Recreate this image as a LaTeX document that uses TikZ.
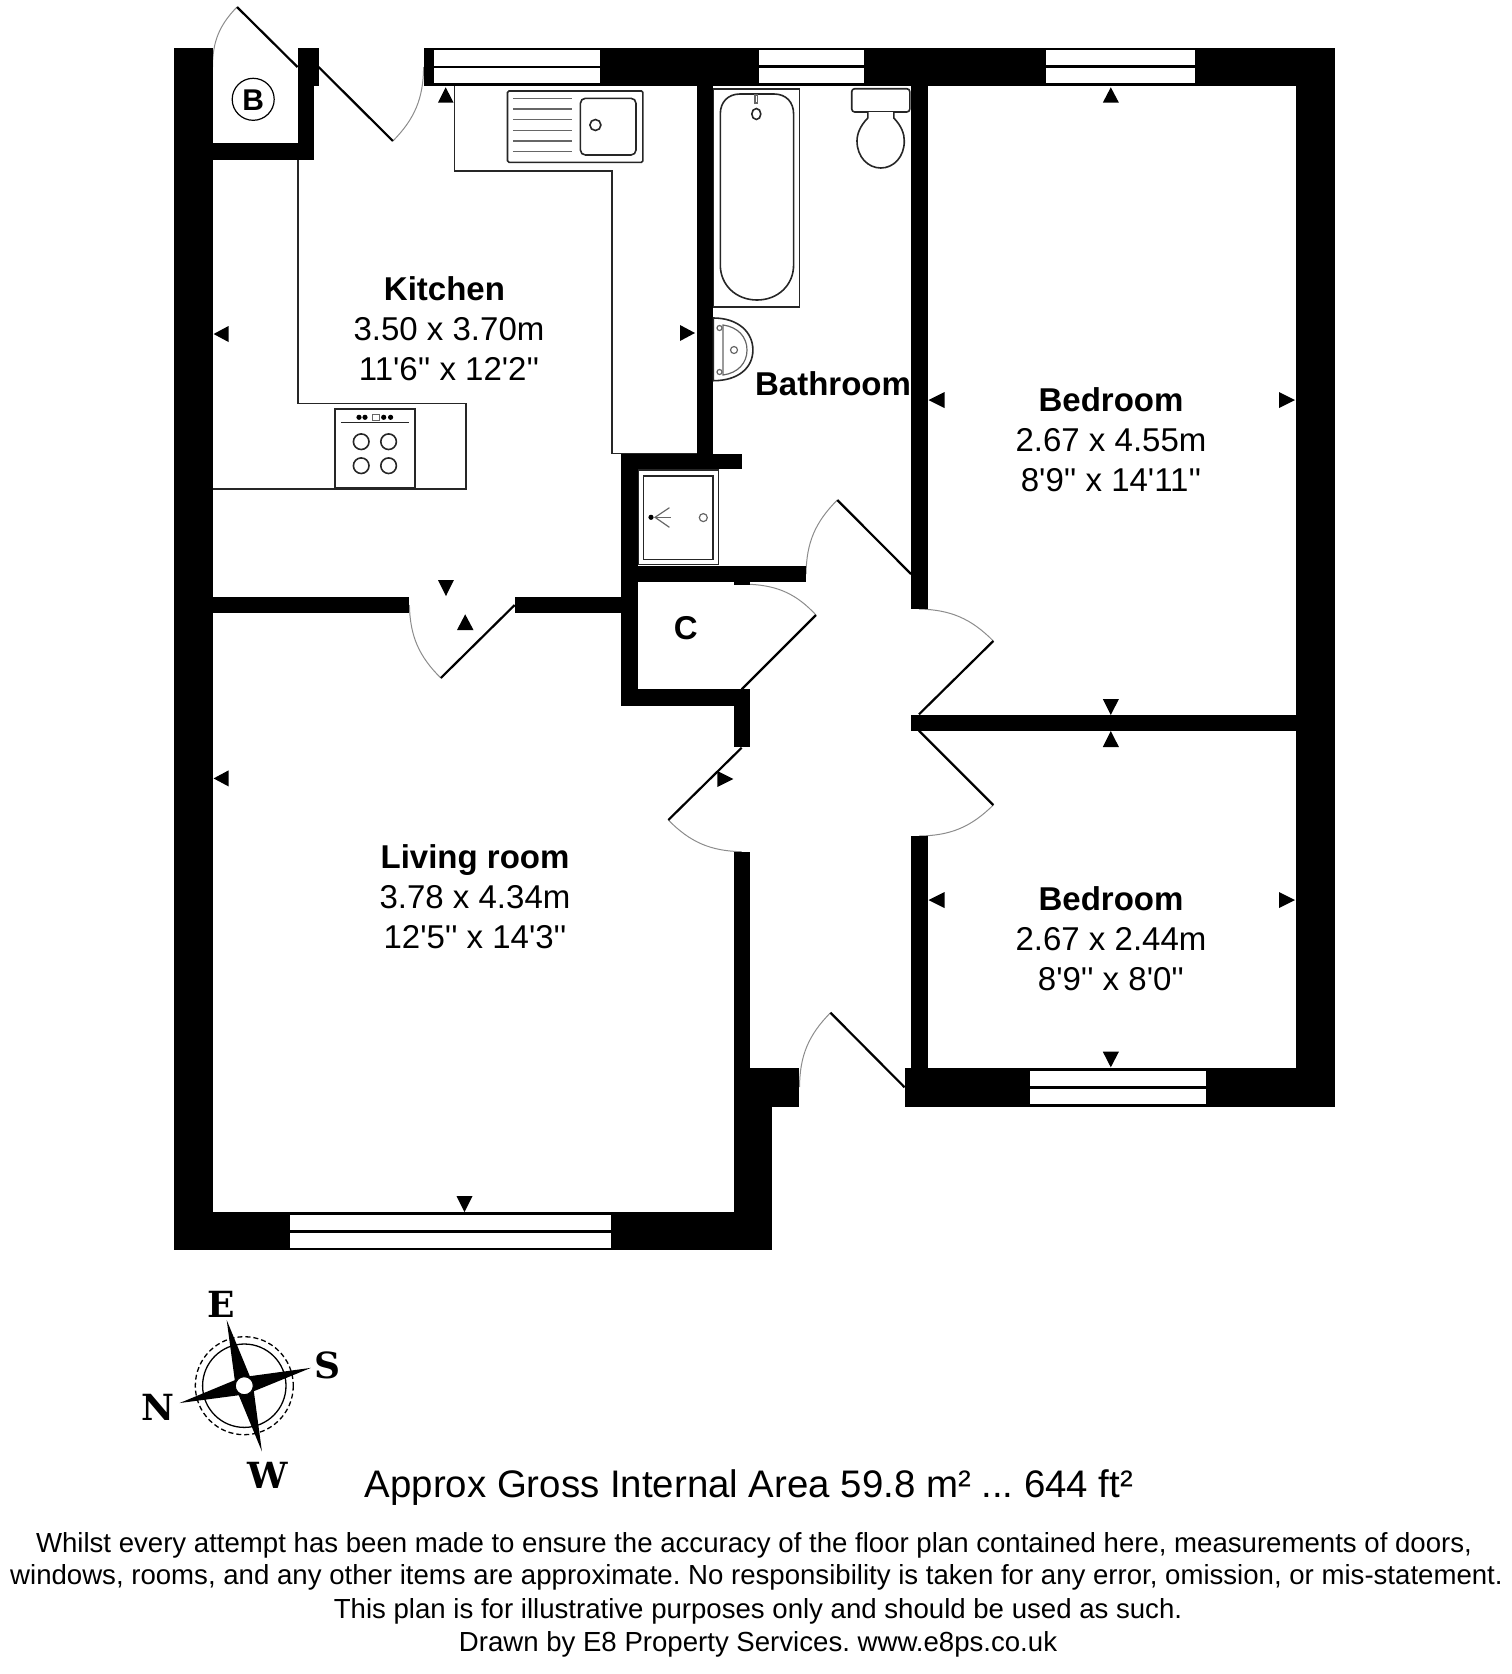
\documentclass[tikz,border=0pt]{standalone}
\usepackage{fontspec}
\setmainfont{Liberation Sans}[Ligatures=TeXOff]
\newfontfamily\compassfont{DejaVu Serif}
\frenchspacing
\tikzset{
  wall/.style={fill=black},
  glass/.style={fill=white},
  leaf/.style={draw=black, line width=2.2pt},
  swing/.style={draw=black!45, line width=1pt},
  fitting/.style={draw=black!85, line width=1.6pt},
  thinfit/.style={draw=black!60, line width=1.2pt},
  room/.style={align=center, inner sep=0pt, font=\fontsize{33}{40}\selectfont},
  title/.style={inner sep=0pt, font=\fontsize{33}{40}\selectfont\bfseries},
  point/.style={inner sep=0pt, font=\fontsize{36}{36}\compassfont\bfseries},
  foot/.style={inner sep=0pt, font=\fontsize{27.6}{33}\selectfont}
}
\begin{document}
\begin{tikzpicture}[x=1pt, y=-1pt]
\useasboundingbox (0,0) rectangle (1512,1674);
\draw[swing] (237,7) to[bend right=22] (212.5,67);
\draw[swing] (392.9,141) to[bend right=22] (423.6,67);
\draw[swing] (440.8,678) to[bend left=22] (409.4,605);
\draw[swing] (750,584.3) to[bend left=22] (816,615);
\draw[swing] (837.3,500) to[bend right=22] (806,574);
\draw[swing] (919,609) to[bend left=22] (993.3,641);
\draw[swing] (993.3,805) to[bend left=22] (919,836);
\draw[swing] (668.3,820) to[bend right=22] (741.7,851.7);
\draw[swing] (830.5,1012.7) to[bend right=22] (799.5,1087);
\fill[wall] (173.6,47.5) rectangle (212.5,1250);
\fill[wall] (212.5,143.3) rectangle (313.6,160);
\fill[wall] (297.5,47.5) rectangle (318.6,86);
\fill[wall] (297.5,86) rectangle (313.6,160);
\fill[wall] (423.6,47.5) rectangle (1334.8,86);
\fill[wall] (696.5,86) rectangle (712.5,454);
\fill[wall] (620.8,454) rectangle (742,469.3);
\fill[wall] (620.8,454) rectangle (637.6,705.7);
\fill[wall] (620.8,566) rectangle (806,582);
\fill[wall] (734,582) rectangle (750.3,584.7);
\fill[wall] (212.5,596.7) rectangle (409.4,612.7);
\fill[wall] (514.7,596.7) rectangle (620.8,612.7);
\fill[wall] (620.8,689.3) rectangle (750.3,705.7);
\fill[wall] (734,705.7) rectangle (750.3,746.7);
\fill[wall] (734,851.7) rectangle (750.3,1212);
\fill[wall] (734,1068.3) rectangle (799.3,1106.7);
\fill[wall] (734,1106.7) rectangle (772.4,1250);
\fill[wall] (173.6,1212) rectangle (772.4,1250);
\fill[wall] (911,86) rectangle (927.5,609.3);
\fill[wall] (911,715) rectangle (1296,730.7);
\fill[wall] (911,836) rectangle (927.5,1068.3);
\fill[wall] (904.6,1068.3) rectangle (1334.8,1106.7);
\fill[wall] (1295.8,47.5) rectangle (1334.8,1106.7);
\fill[glass] (434,50) rectangle (600,65.7);
\fill[glass] (434,68.3) rectangle (600,83.3);
\fill[glass] (758.5,50) rectangle (864,65);
\fill[glass] (758.5,68) rectangle (864,83);
\fill[glass] (1046,50) rectangle (1195.2,65);
\fill[glass] (1046,68) rectangle (1195.2,83);
\fill[glass] (1029.5,1070.7) rectangle (1206,1086);
\fill[glass] (1029.5,1088.7) rectangle (1206,1104);
\fill[glass] (290.4,1214.5) rectangle (611,1230);
\fill[glass] (290.4,1232.5) rectangle (611,1248);
\draw[leaf] (237,7) -- (297.5,67);
\draw[leaf] (318.6,67) -- (392.9,141);
\draw[leaf] (514.7,605) -- (440.8,678);
\draw[leaf] (816,615) -- (741.7,689.3);
\draw[leaf] (837.3,500) -- (911,574);
\draw[leaf] (993.3,641) -- (919,714.3);
\draw[leaf] (919,730.7) -- (993.3,805);
\draw[leaf] (741.7,747.7) -- (668.3,820);
\draw[leaf] (830.5,1012.7) -- (904.6,1087.3);
\draw[fitting] (297.9,160) -- (297.9,403.3) -- (465.7,403.3) -- (465.7,488.7) -- (212.5,488.7);
\draw[fitting] (454.3,86) -- (454.3,170.7) -- (611.8,170.7) -- (611.8,453.3) -- (696.5,453.3);
\draw[fitting, rounded corners=1.5pt] (507.5,91) rectangle (642.9,162.3);
\draw[fitting, rounded corners=5pt] (580.4,98.3) rectangle (636,155);
\draw[fitting] (595.4,125) circle (5.5);
\foreach \y in {98.3,109,119.7,130.3,141,151.7} \draw[thinfit] (512.9,\y) -- (571.8,\y);
\draw[fitting, line width=2pt] (334.7,408.7) rectangle (414.7,488);
\draw[fitting] (340.8,422.3) -- (409,422.3);
\foreach \x in {359,365,383.7,390.6} \fill (\x,417.3) circle (2.6);
\draw[thinfit, line width=.7pt] (372,414.5) rectangle (379,420.5);
\foreach \x in {361.2,388.6} \foreach \y in {441.7,465.7} \draw[fitting] (\x,\y) circle (7.8);
\draw[fitting] (713.4,88.7) rectangle (799.3,307);
\draw[fitting] (720.3,265) -- (720.3,114) .. controls (720.3,102) and (728,94) .. (740,94) -- (774,94) .. controls (786,94) and (793.6,102) .. (793.6,114) -- (793.6,265) .. controls (793.6,285) and (778,300) .. (757,300) .. controls (736,300) and (720.3,285) .. (720.3,265) -- cycle;
\draw[thinfit] (755,95) rectangle (757.6,103);
\draw[fitting] (756.3,114) ellipse (4.5 and 5.5);
\draw[fitting, rounded corners=3pt] (851.7,88.7) rectangle (909.8,112);
\draw[fitting, fill=white] (867.8,112) -- (867.8,118) .. controls (860,126) and (857,134) .. (857,141) .. controls (857,157) and (868,168) .. (880.8,168) .. controls (893.6,168) and (904.3,157) .. (904.3,141) .. controls (904.3,134) and (901.6,126) .. (893.8,118) -- (893.8,112);
\draw[fitting] (713.4,318) .. controls (738,318) and (752.9,332) .. (752.9,350) .. controls (752.9,368) and (738,380.7) .. (713.4,380.7) -- cycle;
\draw[thinfit] (723,325) .. controls (738,327) and (747,337) .. (747,350) .. controls (747,363) and (738,373) .. (723,375) -- cycle;
\draw[thinfit] (719.5,328) circle (2.5);
\draw[thinfit] (719.5,372) circle (2.5);
\draw[thinfit] (734,350) circle (3.5);
\draw[fitting, line width=1.2pt] (638.8,470) rectangle (718.4,564.3);
\draw[fitting, line width=1.2pt] (643.7,476) rectangle (713,559.3);
\fill (651,517.3) circle (2.6);
\draw[thinfit] (669.4,507.7) -- (655,517.3) -- (669.4,527.3);
\draw[thinfit] (655,517.3) -- (671.4,517.3);
\draw[thinfit] (703.3,517.6) circle (4);
\fill (437.9,102.7) -- (453.6,102.7) -- (445.7,87.3) -- cycle;
\fill (228.5,326) -- (228.5,342) -- (213.6,334) -- cycle;
\fill (680,325) -- (680,341) -- (695,333) -- cycle;
\fill (438,580) -- (453.9,580) -- (446,596) -- cycle;
\fill (457,630) -- (473.5,630) -- (465.2,614.3) -- cycle;
\fill (228.5,770.4) -- (228.5,786.4) -- (213.6,778.4) -- cycle;
\fill (456.5,1196) -- (472.5,1196) -- (464.5,1212) -- cycle;
\fill (717.3,771) -- (717.3,787) -- (733.3,779) -- cycle;
\fill (1102.8,102.7) -- (1118.9,102.7) -- (1110.8,87.3) -- cycle;
\fill (944.5,392) -- (944.5,408) -- (928.5,400) -- cycle;
\fill (1279,392) -- (1279,408) -- (1295,400) -- cycle;
\fill (1102.8,699) -- (1118.9,699) -- (1110.8,715) -- cycle;
\fill (1102.8,747) -- (1118.9,747) -- (1110.8,731) -- cycle;
\fill (944.5,892) -- (944.5,908) -- (928.5,900) -- cycle;
\fill (1279,892) -- (1279,908) -- (1295,900) -- cycle;
\fill (1102.8,1051.7) -- (1118.9,1051.7) -- (1110.8,1067.3) -- cycle;
\draw[line width=1.2pt] (253.2,99.3) circle (21);
\node[inner sep=0pt, font=\fontsize{30}{30}\selectfont\bfseries] (boiler) at (253.2,99.8) {B};
\node[title] (cupboard) at (685.7,628) {C};
\node[title] (kitchentitle) at (444.5,289) {Kitchen};
\node[room] (kitchen) at (449,349) {3.50 x 3.70m\\11'6'' x 12'2''};
\node[title] (bathroom) at (833,384) {Bathroom};
\node[room] (bedroomone) at (1111,440) {\textbf{Bedroom}\\2.67 x 4.55m\\8'9'' x 14'11''};
\node[room] (bedroomtwo) at (1111,939) {\textbf{Bedroom}\\2.67 x 2.44m\\8'9'' x 8'0''};
\node[room] (living) at (475,896.5) {\textbf{Living room}\\3.78 x 4.34m\\12'5'' x 14'3''};
\begin{scope}[shift={(244.3,1385.7)}]
\draw[line width=1.3pt] (0,0) circle (41.7);
\draw[line width=1.3pt, dash pattern=on 5pt off 3pt] (0,0) circle (49);
\fill (-15:69) -- (30:11) -- (75:68) -- (120:11) -- (165:67) -- (210:11) -- (255:68) -- (300:11) -- cycle;
\filldraw[fill=white, draw=black, line width=1pt] (0,0) circle (9);
\end{scope}
\node[point] (east) at (221.7,1304) {E};
\node[point] (south) at (327.7,1365) {S};
\node[point] (north) at (157.7,1407) {N};
\node[point] (west) at (267.5,1475) {W};
\node[inner sep=0pt, font=\fontsize{38.4}{44}\selectfont] (area) at (749,1488) {Approx Gross Internal Area 59.8 m² ... 644 ft²};
\node[foot] (footone) at (754,1545.5) {Whilst every attempt has been made to ensure the accuracy of the floor plan contained here, measurements of doors,};
\node[foot] (foottwo) at (756.5,1577.5) {windows, rooms, and any other items are approximate. No responsibility is taken for any error, omission, or mis-statement.};
\node[foot] (footthree) at (758,1611) {This plan is for illustrative purposes only and should be used as such.};
\node[foot] (footfour) at (758,1644) {Drawn by E8 Property Services. www.e8ps.co.uk};
\end{tikzpicture}
\end{document}
